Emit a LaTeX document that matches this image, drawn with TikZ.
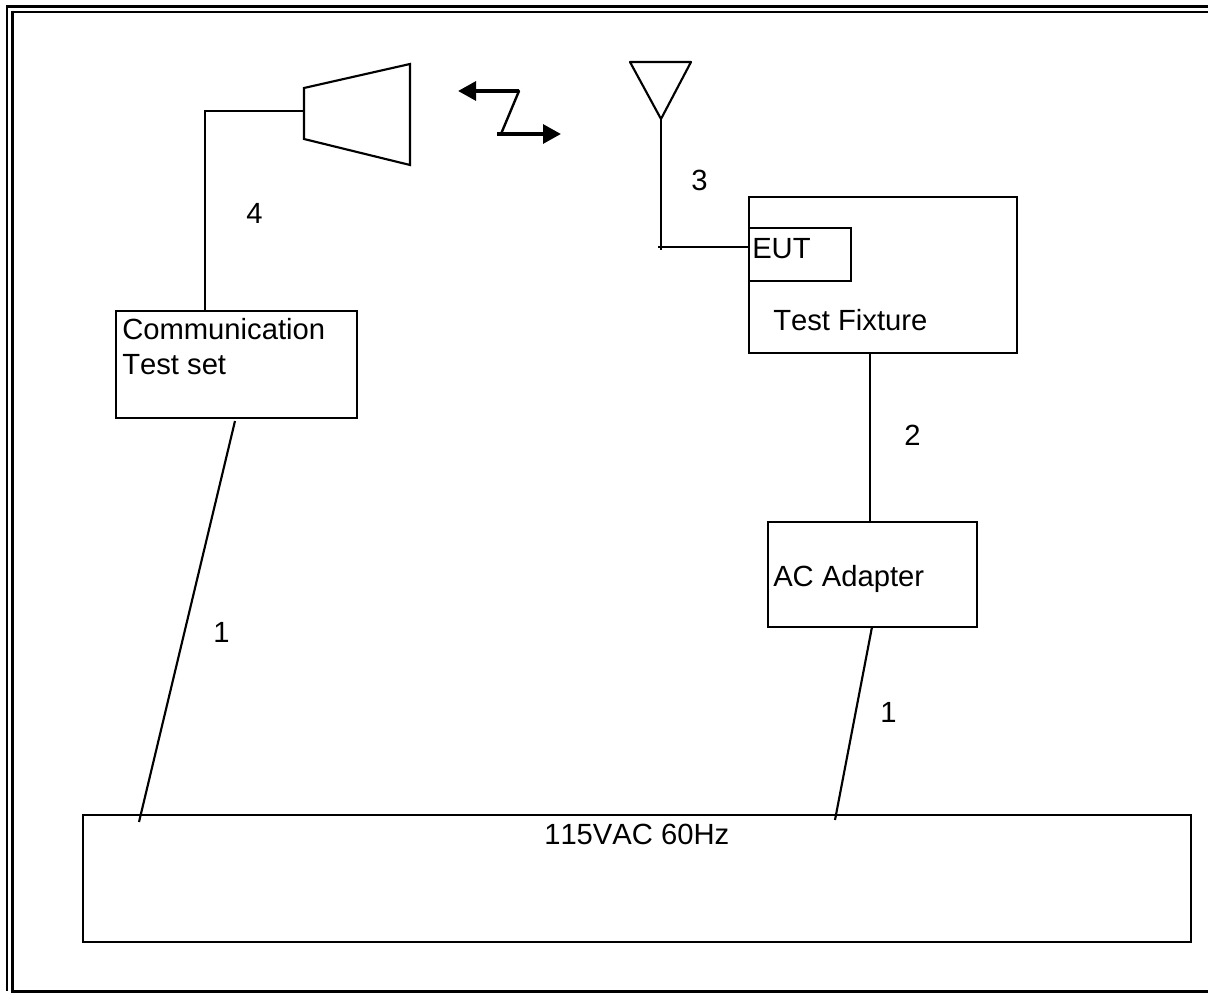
\documentclass[tikz,border=0pt]{standalone}
\usepackage{fontspec}
\setmainfont[Kerning=Off]{Liberation Sans}
\usetikzlibrary{arrows.meta}
\tikzset{
  px/.style={x=0.75pt,y=-0.75pt},
  wire/.style={draw=black,line width=1.6pt},
  box/.style={draw=black,line width=1.6pt,fill=none},
  lbl/.style={inner sep=0pt,anchor=base west,font=\fontsize{21.9pt}{26pt}\selectfont,text=black},
  bolt/.style={draw=black,line width=3pt,-{Triangle[length=13.5pt,width=14pt]}}
}
\begin{document}
\begin{tikzpicture}[px]
\useasboundingbox (0,0) rectangle (1208,994);
% frame
\draw[line width=1.8pt] (1208,6.5) -- (7,6.5) -- (7,991);
\draw[line width=1.8pt] (1208,12) -- (12,12);
\draw[line width=2.4pt] (12.5,11) -- (12.5,991.5) -- (1208,991.5);
% boxes
\coordinate (ctl) at (116,311); \coordinate (cbr) at (357,418);
\draw[box] (ctl) rectangle (cbr);
\coordinate (ftl) at (749,197); \coordinate (fbr) at (1017,353);
\draw[box] (ftl) rectangle (fbr);
\coordinate (etl) at (749,228); \coordinate (ebr) at (851,281);
\draw[box] (etl) rectangle (ebr);
\coordinate (atl) at (768,522); \coordinate (abr) at (977,627);
\draw[box] (atl) rectangle (abr);
\coordinate (ptl) at (83,815); \coordinate (pbr) at (1191,942);
\draw[box] (ptl) rectangle (pbr);
% horn
\coordinate (h1) at (304,88); \coordinate (h2) at (410,64); \coordinate (h3) at (410,165); \coordinate (h4) at (304,139);
\draw[box] (h1) -- (h2) -- (h3) -- (h4) -- cycle;
% antenna
\coordinate (a1) at (630,62); \coordinate (a2) at (691,62); \coordinate (a3) at (661,119);
\draw[box,line join=round] (a1) -- (a2) -- (a3) -- cycle;
% wires
\coordinate (w1) at (205,311); \coordinate (w2) at (205,111); \coordinate (w3) at (304,111);
\draw[wire] (w1) -- (w2) -- (w3);
\coordinate (w4) at (661,247); \coordinate (w5) at (749,247);
\draw[wire] (a3) -- (661,250);
\draw[wire] (658,247) -- (w5);
\coordinate (f1) at (870,353); \coordinate (f2) at (870,522);
\draw[wire] (f1) -- (f2);
\coordinate (p1) at (235,421); \coordinate (p2) at (139,822);
\draw[wire] (p1) -- (p2);
\coordinate (q1) at (872,627); \coordinate (q2) at (835,820);
\draw[wire] (q1) -- (q2);
% zigzag
\coordinate (z0) at (458,91); \coordinate (z1) at (519,91); \coordinate (z2) at (501,134); \coordinate (z3) at (561,134);
\draw[bolt,line join=round] (z1) -- (z0);
\draw[line width=1.8pt,line cap=round] (z1) -- (z2);
\draw[bolt] (497,134) -- (z3);
% text
\node[lbl] (t1) at (122,340) {Communication};
\node[lbl] (t2) at (122,375) {Test set};
\node[lbl] (t3) at (752,259) {EUT};
\node[lbl] (t4) at (773,331) {Test Fixture};
\node[lbl] (t5) at (773,587) {AC Adapter};
\node[lbl] (t6) at (544,845) {115VAC 60Hz};
\node[lbl] (n4) at (246,224) {4};
\node[lbl] (n3) at (691,191) {3};
\node[lbl] (n2) at (904,446) {2};
\node[lbl] (n1a) at (213,643) {1};
\node[lbl] (n1b) at (880,723) {1};
\end{tikzpicture}
\end{document}
